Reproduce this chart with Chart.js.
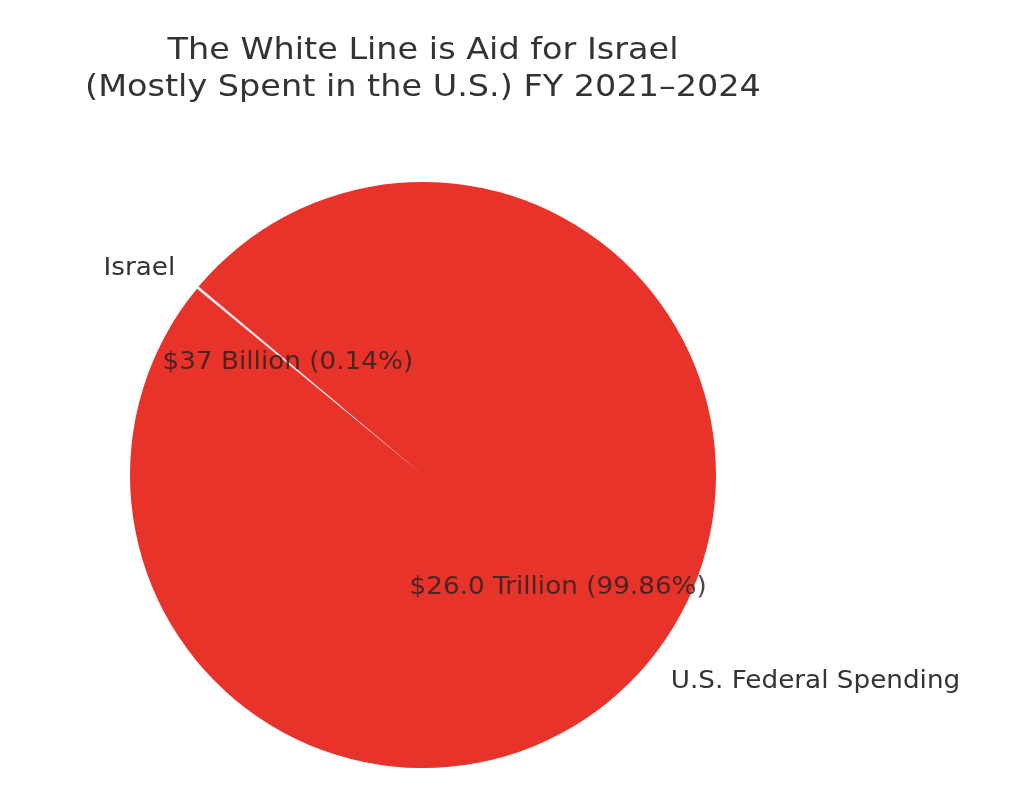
<!DOCTYPE html>
<html>
<head>
<meta charset="utf-8">
<title>The White Line is Aid for Israel</title>
<script src="https://cdn.jsdelivr.net/npm/chart.js@4.4.1/dist/chart.umd.min.js"></script>
<style>
  html, body { margin: 0; padding: 0; background: #fff; }
  #wrap { width: 1017px; height: 794px; position: relative; }
</style>
</head>
<body>
<div id="wrap"><canvas id="pieChart"></canvas></div>
<script>
// values in billions of dollars, FY 2021-2024
const categories = ["Israel", "U.S. Federal Spending"];
const spending = [37, 25963];
const valueLabels = ["$37 Billion (0.14%)", "$26.0 Trillion (99.86%)"];
const titleLines = ["The White Line is Aid for Israel", "(Mostly Spent in the U.S.) FY 2021\u20132024"];
const sliceColors = ["#ece6f2", "#e8332a"];

const FONT = "'DejaVu Sans', 'Liberation Sans', sans-serif";

// text in the picture is a little wider than plain DejaVu, stretch it a bit
const wideText = (ctx, text, x, y, sx) => {
  ctx.save();
  ctx.translate(x, y);
  ctx.scale(sx, 1);
  ctx.fillText(text, 0, 0);
  ctx.restore();
};

// draws title, outside labels and in-slice labels the way matplotlib places them
const pieLabels = {
  id: "pieLabels",
  afterDraw(chart) {
    const ctx = chart.ctx;
    const area = chart.chartArea;
    const meta = chart.getDatasetMeta(0);
    ctx.save();

    ctx.fillStyle = "#333333";
    ctx.font = "31px " + FONT;
    ctx.textAlign = "center";
    ctx.textBaseline = "alphabetic";
    const cx = (area.left + area.right) / 2;
    wideText(ctx, titleLines[0], cx, 59, 1.08);
    wideText(ctx, titleLines[1], cx, 96, 1.08);

    ctx.font = "25px " + FONT;
    ctx.textBaseline = "middle";
    meta.data.forEach((arc, i) => {
      const mid = (arc.startAngle + arc.endAngle) / 2;
      const r = arc.outerRadius;
      const cos = Math.cos(mid), sin = Math.sin(mid);

      ctx.fillStyle = "#333333";
      ctx.textAlign = cos < 0 ? "right" : "left";
      wideText(ctx, categories[i], arc.x + cos * r * 1.1, arc.y + sin * r * 1.1, 1.05);

      ctx.fillStyle = "rgba(51, 34, 34, 0.85)";
      ctx.textAlign = "center";
      wideText(ctx, valueLabels[i], arc.x + cos * r * 0.6, arc.y + sin * r * 0.6, 1.05);
    });
    ctx.restore();
  }
};

const pieCanvas = document.getElementById("pieChart").getContext("2d");
new Chart(pieCanvas, {
  type: "pie",
  data: {
    labels: categories,
    datasets: [
      {
        label: "Spending (billions)",
        data: spending,
        backgroundColor: sliceColors,
        borderWidth: 0,
      },
    ],
  },
  options: {
    responsive: true,
    maintainAspectRatio: false,
    animation: false,
    rotation: 309.5,
    layout: { padding: { left: 130, right: 301, top: 182, bottom: 26 } },
    plugins: {
      legend: { display: false },
      tooltip: { enabled: false },
    },
  },
  plugins: [pieLabels],
});
</script>
</body>
</html>
